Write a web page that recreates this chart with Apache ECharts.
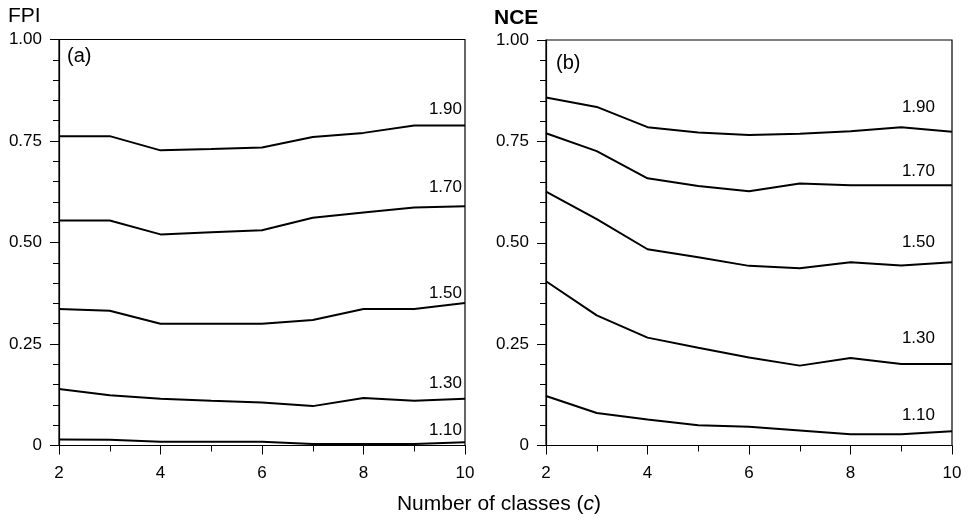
<!DOCTYPE html>
<html>
<head>
<meta charset="utf-8">
<script src="https://cdn.jsdelivr.net/npm/echarts@6/dist/echarts.min.js"></script>
<style>
  html, body { margin: 0; padding: 0; background: #fff; }
  #chart { width: 968px; height: 520px; }
</style>
</head>
<body>
<div id="chart"></div>
<script>
// Number of classes on the x axis
const classes = [2, 3, 4, 5, 6, 7, 8, 9, 10];

// Fuzziness exponent of each curve
const exponents = ['1.90', '1.70', '1.50', '1.30', '1.10'];

// (a) FPI for each exponent
const fpi190 = [0.762, 0.762, 0.727, 0.730, 0.734, 0.760, 0.770, 0.788, 0.788];
const fpi170 = [0.554, 0.554, 0.520, 0.525, 0.530, 0.561, 0.574, 0.586, 0.589];
const fpi150 = [0.336, 0.332, 0.300, 0.300, 0.300, 0.309, 0.336, 0.336, 0.351];
const fpi130 = [0.139, 0.124, 0.115, 0.110, 0.106, 0.097, 0.117, 0.110, 0.115];
const fpi110 = [0.015, 0.014, 0.009, 0.009, 0.009, 0.004, 0.004, 0.004, 0.008];

// (b) NCE for each exponent
const nce190 = [0.858, 0.835, 0.785, 0.772, 0.766, 0.769, 0.775, 0.785, 0.774];
const nce170 = [0.770, 0.726, 0.659, 0.640, 0.627, 0.646, 0.642, 0.642, 0.642];
const nce150 = [0.626, 0.558, 0.484, 0.464, 0.443, 0.437, 0.452, 0.444, 0.452];
const nce130 = [0.405, 0.321, 0.266, 0.241, 0.217, 0.197, 0.216, 0.201, 0.201];
const nce110 = [0.122, 0.080, 0.064, 0.050, 0.046, 0.037, 0.028, 0.028, 0.035];

// Y tick labels
const yTickText = { 0: '0', 0.25: '0.25', 0.5: '0.50', 0.75: '0.75', 1: '1.00' };

const panels = [
  { title: 'FPI', tag: '(a)', series: [fpi190, fpi170, fpi150, fpi130, fpi110] },
  { title: 'NCE', tag: '(b)', series: [nce190, nce170, nce150, nce130, nce110] }
];

// Layout: grid boxes, and where each curve's exponent label sits (in y-axis units)
const FONT = '"Liberation Sans", Arial, sans-serif';
const grids = [
  { left: 59, top: 39.5, width: 406, height: 406 },
  { left: 546, top: 40, width: 406, height: 405.5 }
];
const labelLevels = [
  [0.828, 0.635, 0.375, 0.153, 0.038],
  [0.835, 0.675, 0.500, 0.264, 0.075]
];
const labelInset = [3, 17];

const chart = echarts.init(document.getElementById('chart'), null, { renderer: 'canvas' });

const xAxes = [], yAxes = [], series = [];
panels.forEach((p, i) => {
  xAxes.push({
    gridIndex: i, type: 'value', min: 2, max: 10, interval: 2,
    axisLine: { lineStyle: { color: '#000', width: 1.2 } },
    axisTick: { show: true, length: 9, lineStyle: { color: '#000', width: 1 } },
    minorTick: { show: true, splitNumber: 2, length: 6, lineStyle: { color: '#000', width: 1 } },
    splitLine: { show: false },
    axisLabel: { color: '#000', fontSize: 17, fontFamily: FONT, margin: 19 }
  });
  yAxes.push({
    gridIndex: i, type: 'value', min: 0, max: 1, interval: 0.25,
    axisLine: { show: true, lineStyle: { color: '#000', width: 1.2 } },
    axisTick: { show: true, length: 9, lineStyle: { color: '#000', width: 1 } },
    minorTick: { show: true, splitNumber: 5, length: 6, lineStyle: { color: '#000', width: 1 } },
    splitLine: { show: false },
    axisLabel: {
      color: '#000', fontSize: 17, fontFamily: FONT, margin: 17,
      formatter: v => yTickText[v] !== undefined ? yTickText[v] : ''
    }
  });
  p.series.forEach((vals, k) => {
    series.push({
      type: 'line', name: p.title + ' ' + exponents[k],
      xAxisIndex: i, yAxisIndex: i,
      data: classes.map((c, j) => [c, vals[j]]),
      showSymbol: false, symbol: 'none', silent: true, animation: false,
      lineStyle: { color: '#000', width: 2 }
    });
  });
});

chart.setOption({
  backgroundColor: '#fff',
  animation: false,
  grid: grids.map(g => Object.assign({ show: true, borderColor: '#000', borderWidth: 1.2, backgroundColor: 'transparent' }, g)),
  xAxis: xAxes,
  yAxis: yAxes,
  series: series
});

// Panel titles, panel tags, curve labels and the shared x-axis title
const texts = [];
const titlePos = [[8, 6], [494, 8]];
const titleWeight = ['normal', 'bold'];
const tagPos = [[67, 46], [556, 53]];
panels.forEach((p, i) => {
  texts.push({
    type: 'text', left: titlePos[i][0], top: titlePos[i][1],
    style: { text: p.title, fill: '#000', font: titleWeight[i] + ' 21px ' + FONT }
  });
  texts.push({
    type: 'text', left: tagPos[i][0], top: tagPos[i][1],
    style: { text: p.tag, fill: '#000', font: '20px ' + FONT }
  });
  exponents.forEach((e, k) => {
    const pt = chart.convertToPixel({ gridIndex: i }, [10, labelLevels[i][k]]);
    texts.push({
      type: 'text', x: pt[0] - labelInset[i], y: pt[1],
      style: { text: e, fill: '#000', font: '17px ' + FONT, align: 'right', verticalAlign: 'middle' }
    });
  });
});
texts.push({
  type: 'text', x: 499, y: 504,
  style: {
    text: 'Number of classes ({i|c})',
    fill: '#000', font: '21px ' + FONT, align: 'center', verticalAlign: 'middle',
    rich: { i: { fontStyle: 'italic', fontSize: 21, fontFamily: FONT, fill: '#000' } }
  }
});
chart.setOption({ graphic: { elements: texts } });
</script>
</body>
</html>
